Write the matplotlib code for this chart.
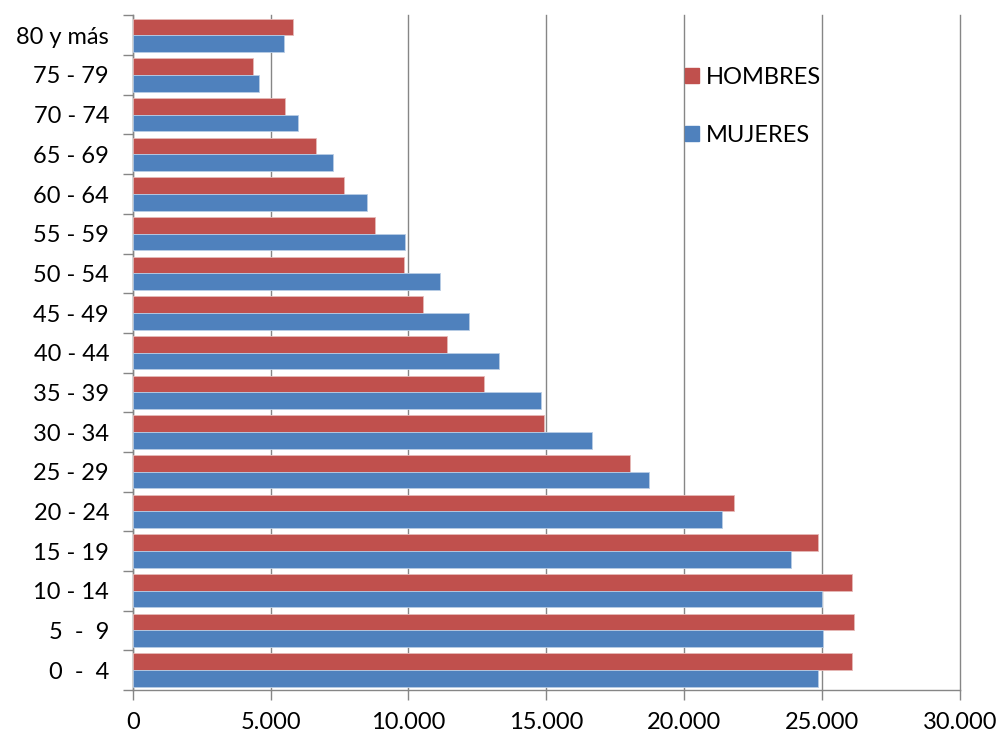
import numpy as np
import matplotlib.pyplot as plt
from matplotlib.patches import Patch
from matplotlib.ticker import FuncFormatter

plt.rcParams['font.family'] = ['Lato', 'DejaVu Sans']

grupos = ['0  -  4', '5  -  9', '10 - 14', '15 - 19', '20 - 24', '25 - 29', '30 - 34',
          '35 - 39', '40 - 44', '45 - 49', '50 - 54', '55 - 59', '60 - 64', '65 - 69',
          '70 - 74', '75 - 79', '80 y más']
hombres = [26090, 26160, 26090, 24850, 21810, 18040, 14930, 12750, 11380, 10540,
           9820, 8800, 7680, 6630, 5540, 4350, 5800]
mujeres = [24850, 25040, 25000, 23880, 21380, 18730, 16670, 14820, 13300, 12210,
           11160, 9860, 8480, 7280, 6010, 4570, 5470]

rojo = '#C0504D'
azul = '#4F81BD'
gris = '#868686'

fig = plt.figure(figsize=(10, 7.36), dpi=100)
ax = fig.add_axes([0.1327, 0.0625, 0.8273, 0.9165])

y = np.arange(len(grupos))
h = 0.42
ax.barh(y + h / 2, hombres, height=h, color=rojo, edgecolor='#E6B9B8', linewidth=0.6, zorder=3)
ax.barh(y - h / 2, mujeres, height=h, color=azul, edgecolor='#B9CDE5', linewidth=0.6, zorder=3)

ax.set_xlim(0, 30000)
ax.set_ylim(-0.5, len(grupos) - 0.5)
ax.set_xticks(np.arange(0, 30001, 5000))
ax.xaxis.set_major_formatter(FuncFormatter(lambda v, p: f'{int(v):,}'.replace(',', '.')))
ax.grid(axis='x', color=gris, linewidth=1, zorder=0)
for gl in ax.get_xgridlines():
    gl.set_clip_on(False)

ax.set_yticks(y)
ax.set_yticklabels(grupos)
ax.set_yticks(np.arange(-0.5, len(grupos), 1), minor=True)
ax.tick_params(axis='y', which='major', length=0, pad=17, labelsize=17)
ax.tick_params(axis='y', which='minor', length=7, color=gris, width=1)
ax.tick_params(axis='x', length=7, color=gris, width=1, pad=9, labelsize=17)

for s in ['top', 'right']:
    ax.spines[s].set_visible(False)
for s in ['left', 'bottom']:
    ax.spines[s].set_color(gris)
    ax.spines[s].set_linewidth(1)

handles = [Patch(color=rojo, label='HOMBRES'), Patch(color=azul, label='MUJERES')]
ax.legend(handles=handles, loc='upper left', bbox_to_anchor=(0.642, 0.955), frameon=False,
          fontsize=17, handlelength=0.6, handleheight=0.6, handletextpad=0.3,
          labelspacing=1.55)

plt.savefig('out.png', dpi=100)
